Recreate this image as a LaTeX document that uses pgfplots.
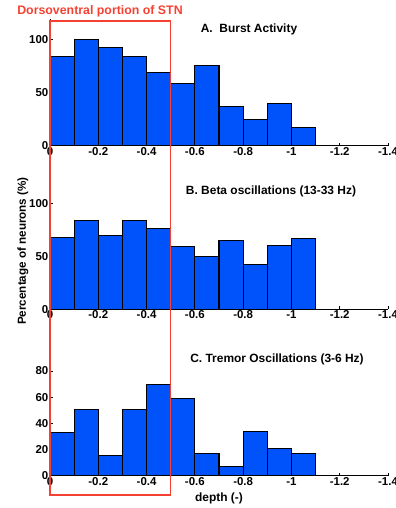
\documentclass[border=0pt]{standalone}
\usepackage{fontspec}
\setmainfont{Liberation Sans}
\usepackage{pgfplots}
\pgfplotsset{compat=1.18}
\definecolor{barblue}{RGB}{0,82,250}
\definecolor{boxred}{RGB}{245,65,50}
\pgfplotsset{
  hist/.style={
    scale only axis,
    width=338bp, height=127bp,
    anchor=south west,
    xmin=-1.4, xmax=0, x dir=reverse,
    ymin=0,
    axis x line*=bottom, axis y line*=left,
    axis line style={black, line width=0.8bp},
    tick align=inside,
    major tick length=3bp,
    tick style={black, line width=0.8bp},
    xtick={0,-0.2,-0.4,-0.6,-0.8,-1,-1.2,-1.4},
    xticklabels={0,-0.2,-0.4,-0.6,-0.8,-1,-1.2,-1.4},
    /pgf/number format/assume math mode=true,
    every tick label/.append style={font=\fontsize{11.5}{13}\selectfont\bfseries},
    yticklabel style={inner sep=1.5bp},
    xticklabel style={inner sep=1.5bp},
    clip=false,
  },
  bars/.style={ybar interval, fill=barblue, draw=black, line width=1.1bp},
}
\begin{document}
\begin{tikzpicture}[x=1bp,y=1bp]
\path[use as bounding box] (0,0) rectangle (395,508);

% Panel A
\begin{axis}[hist, at={(50bp,362.3bp)}, ymax=120, ytick={0,50,100}]
\addplot[bars] coordinates {(-1.1,17.5) (-1.0,40) (-0.9,25) (-0.8,37) (-0.7,76) (-0.6,59) (-0.5,69) (-0.4,84) (-0.3,93) (-0.2,100) (-0.1,84) (0,84)};
\end{axis}

% Panel B
\begin{axis}[hist, at={(50bp,198.7bp)}, ymax=120, ytick={0,50,100}]
\addplot[bars] coordinates {(-1.1,67) (-1.0,60) (-0.9,42) (-0.8,65) (-0.7,50) (-0.6,59) (-0.5,76) (-0.4,84) (-0.3,70) (-0.2,84) (-0.1,67.5) (0,67.5)};
\end{axis}

% Panel C
\begin{axis}[hist, at={(50bp,32.3bp)}, ymax=97, ytick={0,20,40,60,80}]
\addplot[bars] coordinates {(-1.1,17) (-1.0,20.7) (-0.9,33.7) (-0.8,7.2) (-0.7,17) (-0.6,58.8) (-0.5,70) (-0.4,50.3) (-0.3,15.6) (-0.2,50.3) (-0.1,33.2) (0,33.2)};
\end{axis}

% Titles
\node[font=\fontsize{12}{14}\selectfont\bfseries] at (249,478.7) {A.\ \ Burst Activity};
\node[font=\fontsize{12}{14}\selectfont\bfseries] at (271,316.3) {B. Beta oscillations (13-33 Hz)};
\node[font=\fontsize{12}{14}\selectfont\bfseries] at (277,148.7) {C. Tremor Oscillations (3-6 Hz)};
\node[font=\fontsize{12}{14}\selectfont\bfseries] at (219,10) {depth (-)};
\node[font=\fontsize{11.7}{14}\selectfont\bfseries, rotate=90] at (23,257) {Percentage of neurons (\%)};

% Red annotation
\node[font=\fontsize{12.4}{14}\selectfont\bfseries, text=boxred] at (100,496.3) {Dorsoventral portion of STN};
\draw[boxred, line width=1.3bp] (50,487) rectangle (170.7,13);
\end{tikzpicture}
\end{document}
